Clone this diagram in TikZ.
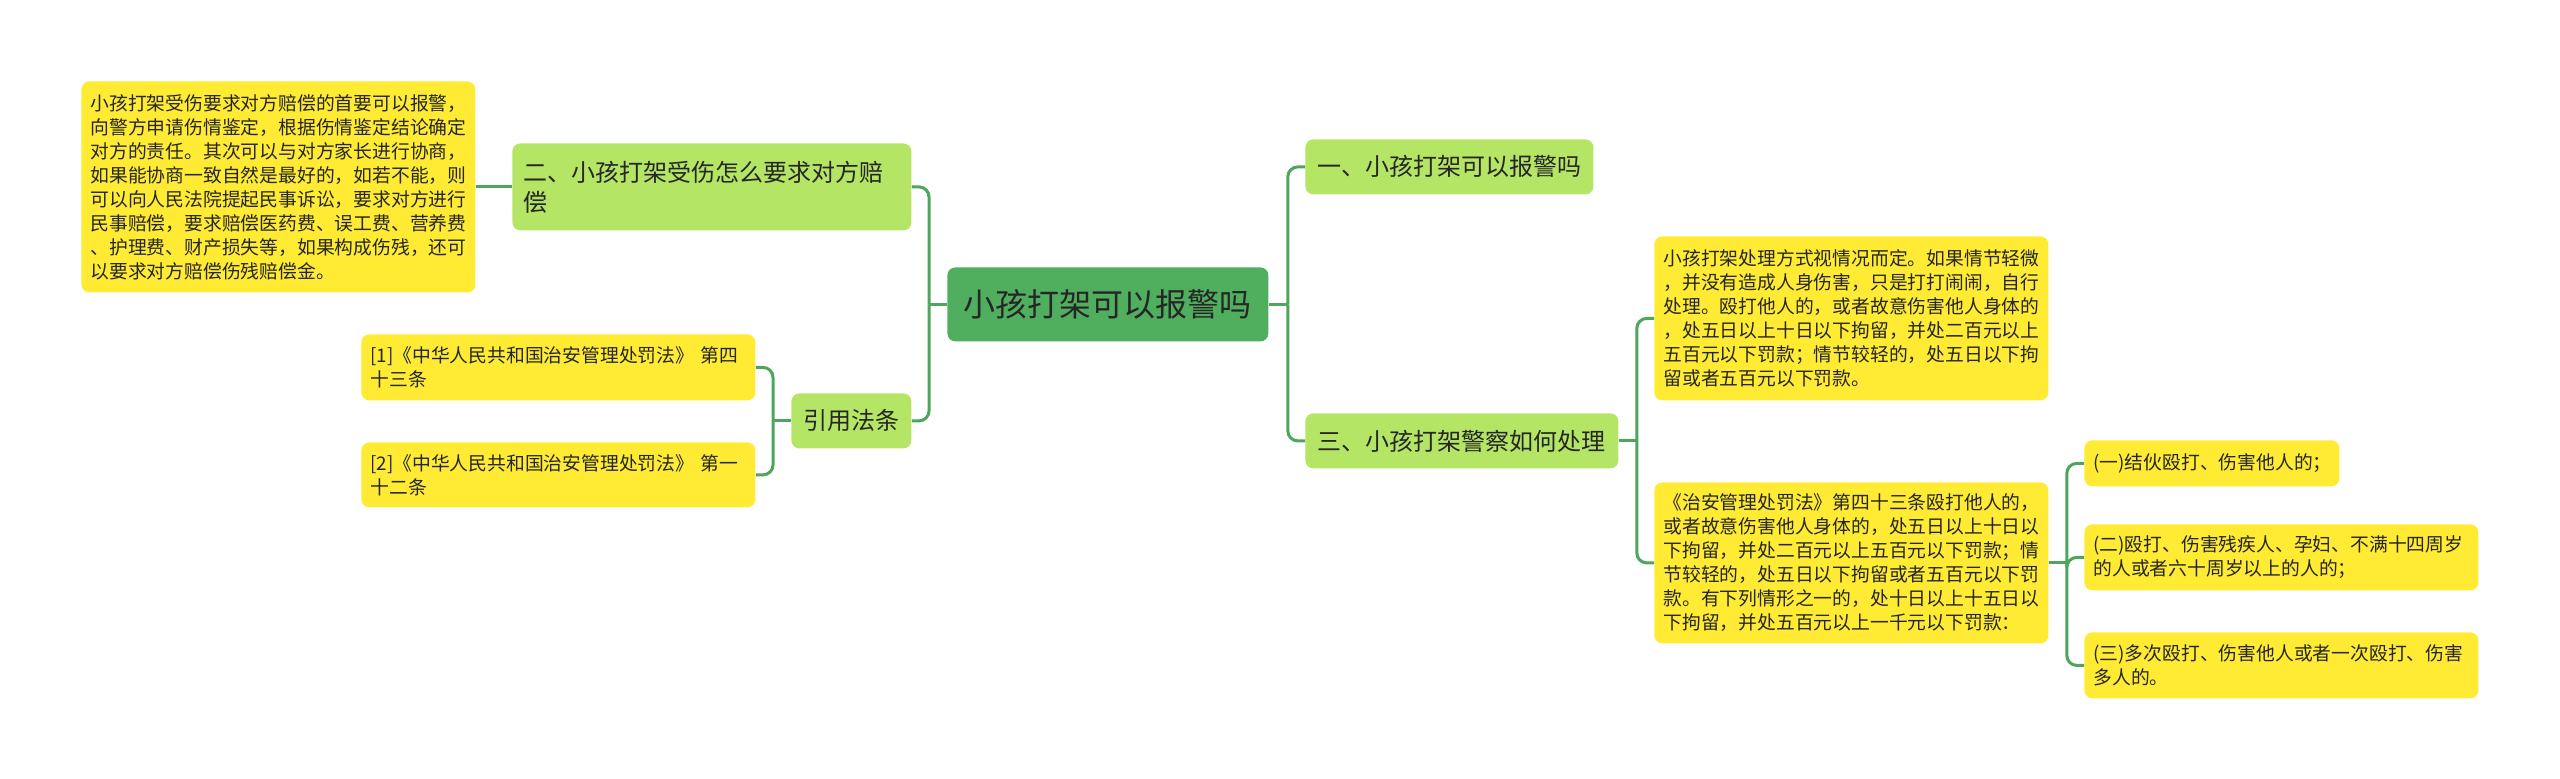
\documentclass[tikz,border=0pt]{standalone}
\usepackage{fontspec}
\newfontfamily\cjk{Noto Sans CJK SC}
\usepackage{xcolor}
\definecolor{rootgreen}{HTML}{50AE5F}
\definecolor{subgreen}{HTML}{B4E564}
\definecolor{noteyellow}{HTML}{FFEB34}
\definecolor{linkgreen}{HTML}{4DA65C}
\definecolor{inkgray}{HTML}{262626}

\begin{document}
\begin{tikzpicture}[
  x=0.5pt,y=-0.5pt,
  box/.style={anchor=north west,rounded corners=4pt,inner xsep=5pt,inner ysep=2pt,text=inkgray},
  root/.style={box,fill=rootgreen,font=\cjk\fontsize{16}{19}\selectfont,minimum width=160.5pt,minimum height=37pt},
  sub/.style={box,fill=subgreen,font=\cjk\fontsize{12}{15}\selectfont,minimum height=27.5pt,align=left},
  note/.style={box,fill=noteyellow,font=\cjk\fontsize{9.4}{12}\selectfont,inner xsep=4.5pt,align=left,text width=188pt},
  link/.style={draw=linkgreen,line width=1.5pt,rounded corners=5pt}
]
\useasboundingbox (0,0) rectangle (2560,779);

\node[root] (root) at (947,267) {小孩打架可以报警吗};
\node[sub,minimum width=144pt] (one) at (1305,139) {一、小孩打架可以报警吗};
\node[sub,minimum width=156.5pt] (three) at (1305,413) {三、小孩打架警察如何处理};
\node[sub,text width=188.5pt,inner xsep=5.5pt,minimum height=43.5pt] (two) at (512,143) {二、小孩打架受伤怎么要求对方赔\\偿};
\node[sub,minimum width=60pt] (cite) at (791,393) {引用法条};

\node[note,minimum height=105.5pt] (lbox) at (81,81) {小孩打架受伤要求对方赔偿的首要可以报警，\\向警方申请伤情鉴定，根据伤情鉴定结论确定\\对方的责任。其次可以与对方家长进行协商，\\如果能协商一致自然是最好的，如若不能，则\\可以向人民法院提起民事诉讼，要求对方进行\\民事赔偿，要求赔偿医药费、误工费、营养费\\、护理费、财产损失等，如果构成伤残，还可\\以要求对方赔偿伤残赔偿金。};
\node[note,minimum height=33pt] (ref1) at (361,334) {[1]《中华人民共和国治安管理处罚法》 第四\\十三条};
\node[note,minimum height=32.5pt] (ref2) at (361,442) {[2]《中华人民共和国治安管理处罚法》 第一\\十二条};

\node[note,minimum height=82pt] (rt1) at (1654,236) {小孩打架处理方式视情况而定。如果情节轻微\\，并没有造成人身伤害，只是打打闹闹，自行\\处理。殴打他人的，或者故意伤害他人身体的\\，处五日以上十日以下拘留，并处二百元以上\\五百元以下罚款；情节较轻的，处五日以下拘\\留或者五百元以下罚款。};
\node[note,minimum height=80.5pt] (rt2) at (1654,482) {《治安管理处罚法》第四十三条殴打他人的，\\或者故意伤害他人身体的，处五日以上十日以\\下拘留，并处二百元以上五百元以下罚款；情\\节较轻的，处五日以下拘留或者五百元以下罚\\款。有下列情形之一的，处十日以上十五日以\\下拘留，并处五百元以上一千元以下罚款：};

\node[note,text width=118.5pt,minimum height=23pt] (c1) at (2084,440) {(一)结伙殴打、伤害他人的；};
\node[note,minimum height=33pt] (c2) at (2084,524) {(二)殴打、伤害残疾人、孕妇、不满十四周岁\\的人或者六十周岁以上的人的；};
\node[note,minimum height=33pt] (c3) at (2084,632) {(三)多次殴打、伤害他人或者一次殴打、伤害\\多人的。};

\draw[link] (root.east) -- ++(19,0) coordinate (rj);
\draw[link] (rj) |- (one.west);
\draw[link] (rj) |- (three.west);
\draw[link] (root.west) -- ++(-18,0) coordinate (lj);
\draw[link] (lj) |- (two.east);
\draw[link] (lj) |- (cite.east);
\draw[link] (lbox.east) -- (two.west);
\draw[link] (cite.west) -- ++(-18,0) coordinate (cj);
\draw[link] (cj) |- (ref1.east);
\draw[link] (cj) |- (ref2.east);
\draw[link] (three.east) -- ++(18,0) coordinate (tj);
\draw[link] (tj) |- (rt1.west);
\draw[link] (tj) |- (rt2.west);
\draw[link] (rt2.east) -- ++(18,0) coordinate (pj);
\foreach \c in {c1,c2,c3}
  \draw[link] (pj) |- (\c.west);
\end{tikzpicture}
\end{document}
